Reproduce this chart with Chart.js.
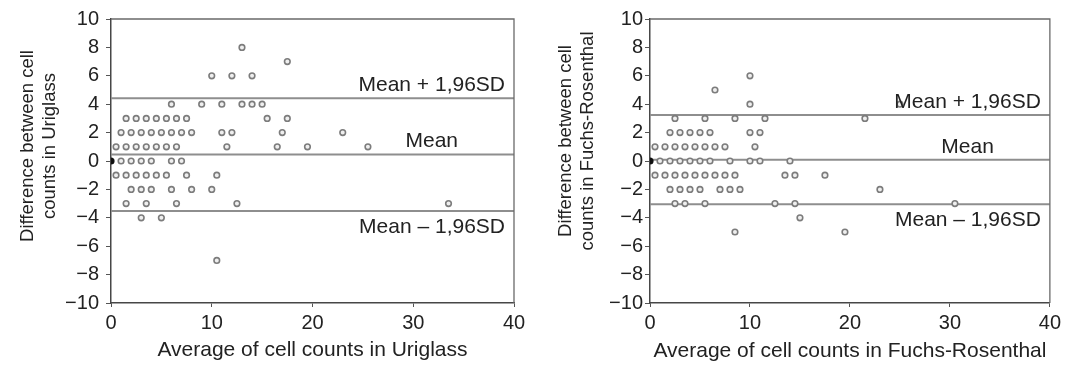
<!DOCTYPE html>
<html>
<head>
<meta charset="utf-8">
<script src="https://cdn.jsdelivr.net/npm/chart.js@4.4.0/dist/chart.umd.min.js"></script>
<style>
  body { margin: 0; background: #fff; }
  #wrap { position: relative; width: 1065px; height: 367px; }
  canvas { position: absolute; top: 0; }
  #uriglass { left: 0; }
  #fuchs { left: 532px; }
</style>
</head>
<body>
<div id="wrap">
  <canvas id="uriglass" width="532" height="367"></canvas>
  <canvas id="fuchs" width="533" height="367"></canvas>
</div>
<script>
// Axis ticks shared by both plots
const xTicks = [0, 10, 20, 30, 40];
const yTicks = [-10, -8, -6, -4, -2, 0, 2, 4, 6, 8, 10];

// Uriglass: difference levels and the averages found at each level
const uriDiffLevels = [8, 7, 6, 4, 3, 2, 1, 0, -1, -2, -3, -4, -7];
const uriAvgByLevel = [
    [13],
    [17.5],
    [10, 12, 14],
    [6, 9, 11, 13, 14, 15],
    [1.5, 2.5, 3.5, 4.5, 5.5, 6.5, 7.5, 15.5, 17.5],
    [1, 2, 3, 4, 5, 6, 7, 8, 11, 12, 17, 23],
    [0.5, 1.5, 2.5, 3.5, 4.5, 5.5, 6.5, 11.5, 16.5, 19.5, 25.5],
    [0, 1, 2, 3, 4, 6, 7],
    [0.5, 1.5, 2.5, 3.5, 4.5, 5.5, 7.5, 10.5],
    [2, 3, 4, 6, 8, 10],
    [1.5, 3.5, 6.5, 12.5, 33.5],
    [3, 5],
    [10.5]
];
const uriLimits = [4.42, 0.46, -3.52];

// Fuchs-Rosenthal
const fuchsDiffLevels = [6, 5, 4, 3, 2, 1, 0, -1, -2, -3, -4, -5];
const fuchsAvgByLevel = [
    [10],
    [6.5],
    [10, 25],
    [2.5, 5.5, 8.5, 11.5, 21.5],
    [2, 3, 4, 5, 6, 10, 11],
    [0.5, 1.5, 2.5, 3.5, 4.5, 5.5, 6.5, 7.5, 10.5],
    [0, 1, 2, 3, 4, 5, 6, 8, 10, 11, 14],
    [0.5, 1.5, 2.5, 3.5, 4.5, 5.5, 6.5, 7.5, 8.5, 13.5, 14.5, 17.5],
    [2, 3, 4, 5, 7, 8, 9, 23],
    [2.5, 3.5, 5.5, 12.5, 14.5, 30.5],
    [15],
    [8.5, 19.5]
];
const fuchsLimits = [3.24, 0.08, -3.05];

const limitLabels = ['Mean + 1,96SD', 'Mean', 'Mean \u2013 1,96SD'];

const FONT = '"Liberation Sans", Arial, Helvetica, sans-serif';
const INK = '#222';

// Frame, limit labels and axis titles
const blandAltman = {
    id: 'blandAltman',
    afterDraw(chart, args, o) {
        const ctx = chart.ctx;
        const area = chart.chartArea;
        const y = chart.scales.y;
        ctx.save();

        // top and right frame
        ctx.strokeStyle = '#6a6a6a';
        ctx.lineWidth = 1.3;
        ctx.beginPath();
        ctx.moveTo(area.left, area.top);
        ctx.lineTo(area.right, area.top);
        ctx.lineTo(area.right, area.bottom);
        ctx.stroke();

        // labels on the limit lines
        ctx.fillStyle = INK;
        ctx.font = '21px ' + FONT;
        ctx.textAlign = 'right';
        ctx.textBaseline = 'alphabetic';
        o.limits.forEach((v, i) => {
            const py = y.getPixelForValue(v);
            if (i === 0) ctx.fillText(limitLabels[i], area.right - 9, py - 7);
            if (i === 1) ctx.fillText(limitLabels[i], area.right - 56, py - 7);
            if (i === 2) ctx.fillText(limitLabels[i], area.right - 9, py + 22);
        });

        // x title
        ctx.textAlign = 'center';
        ctx.fillText(o.xTitle, (area.left + area.right) / 2, o.xBase);

        // y title, two lines
        ctx.font = '18.5px ' + FONT;
        o.yTitle.forEach((line, i) => {
            ctx.save();
            ctx.translate(o.yBase + i * 22, o.yMid);
            ctx.rotate(-Math.PI / 2);
            ctx.fillText(line, 0, 0);
            ctx.restore();
        });
        ctx.restore();
    }
};

function minus(v) {
    return String(v).replace('-', '\u2212');
}

function makeChart(id, levels, avgs, limits, cfg) {
    const points = [];
    levels.forEach((d, i) => {
        avgs[i].forEach(a => points.push({ x: a, y: d }));
    });

    const isOrigin = c => c.raw && c.raw.x === 0 && c.raw.y === 0;

    const datasets = [{
        type: 'scatter',
        data: points,
        order: 0,
        pointRadius: 2.8,
        pointBorderWidth: 1.6,
        pointBorderColor: c => isOrigin(c) ? '#111' : '#7c7c7c',
        pointBackgroundColor: c => isOrigin(c) ? '#111' : '#efefef'
    }];
    limits.forEach(v => {
        datasets.push({
            type: 'line',
            data: [{ x: xTicks[0], y: v }, { x: xTicks[xTicks.length - 1], y: v }],
            order: 1,
            borderColor: '#8e8e8e',
            borderWidth: 2,
            pointRadius: 0
        });
    });

    return new Chart(document.getElementById(id), {
        data: { datasets },
        options: {
            responsive: false,
            animation: false,
            devicePixelRatio: 1,
            layout: { padding: { top: 19, right: cfg.padRight, left: 0, bottom: 0 } },
            plugins: {
                legend: { display: false },
                tooltip: { enabled: false },
                blandAltman: {
                    limits,
                    xTitle: cfg.xTitle,
                    xBase: cfg.xBase,
                    yTitle: cfg.yTitle,
                    yBase: cfg.yBase,
                    yMid: cfg.yMid
                }
            },
            scales: {
                x: {
                    type: 'linear',
                    min: xTicks[0],
                    max: xTicks[xTicks.length - 1],
                    afterFit: s => { s.height = 64; },
                    afterBuildTicks: s => { s.ticks = xTicks.map(v => ({ value: v })); },
                    grid: { drawOnChartArea: false, tickLength: 4, color: '#555' },
                    border: { color: '#474747', width: 1.5 },
                    ticks: { color: INK, font: { family: FONT, size: 20 }, padding: 4, maxRotation: 0 }
                },
                y: {
                    type: 'linear',
                    min: yTicks[0],
                    max: yTicks[yTicks.length - 1],
                    afterFit: s => { s.width = cfg.yWidth; },
                    afterBuildTicks: s => { s.ticks = yTicks.map(v => ({ value: v })); },
                    grid: { drawOnChartArea: false, tickLength: 5, color: '#555' },
                    border: { color: '#474747', width: 1.5 },
                    ticks: { color: INK, font: { family: FONT, size: 20 }, padding: cfg.yPad, callback: minus }
                }
            }
        },
        plugins: [blandAltman]
    });
}

makeChart('uriglass', uriDiffLevels, uriAvgByLevel, uriLimits, {
    padRight: 18,
    yWidth: 111,
    yPad: 7,
    xTitle: 'Average of cell counts in Uriglass',
    xBase: 356,
    yTitle: ['Difference between cell', 'counts in Uriglass'],
    yBase: 33,
    yMid: 146
});

makeChart('fuchs', fuchsDiffLevels, fuchsAvgByLevel, fuchsLimits, {
    padRight: 14,
    yWidth: 118,
    yPad: 2,
    xTitle: 'Average of cell counts in Fuchs-Rosenthal',
    xBase: 357,
    yTitle: ['Difference between cell', 'counts in Fuchs-Rosenthal'],
    yBase: 39,
    yMid: 141
});
</script>
</body>
</html>
